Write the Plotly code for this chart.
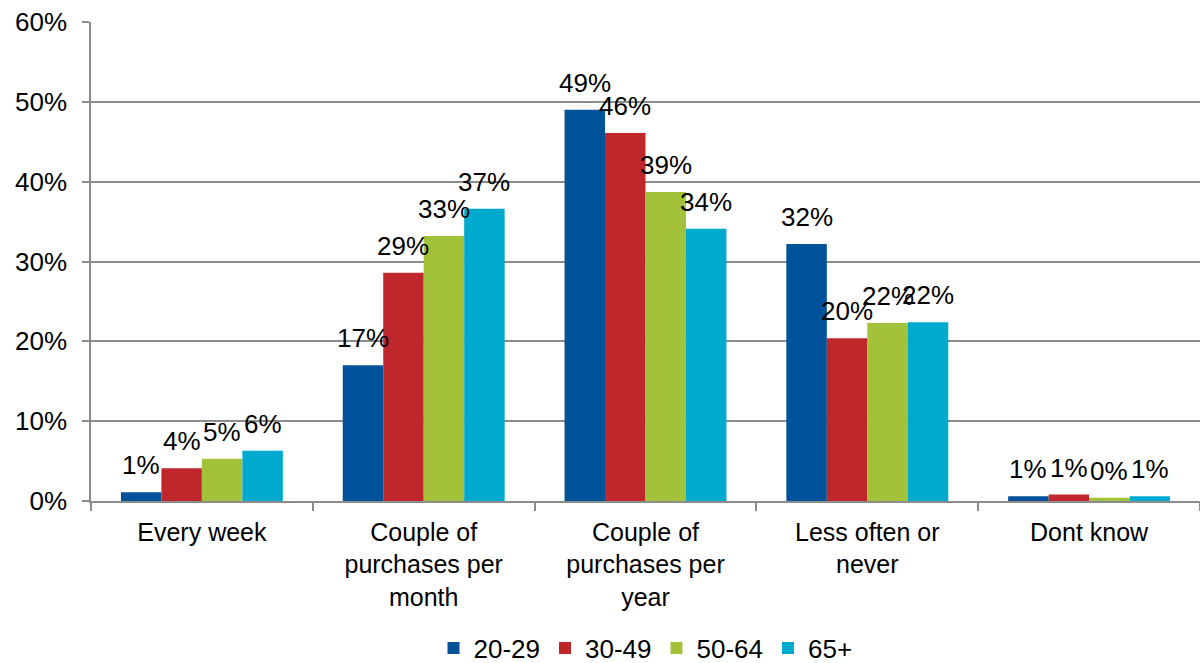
import plotly.graph_objects as go

categories = ["Every week", "Couple of<br>purchases per<br>month", "Couple of<br>purchases per<br>year",
              "Less often or<br>never", "Dont know"]
age_groups = ["20-29", "30-49", "50-64", "65+"]
values_20_29 = [0.011, 0.170, 0.490, 0.322, 0.006]
values_30_49 = [0.041, 0.286, 0.461, 0.204, 0.008]
values_50_64 = [0.053, 0.332, 0.387, 0.223, 0.004]
values_65_plus = [0.063, 0.366, 0.341, 0.224, 0.006]
colors = ["#00529B", "#C0272D", "#A4C13A", "#00AACF"]
y_ticks = [0, 0.1, 0.2, 0.3, 0.4, 0.5, 0.6]

series = [values_20_29, values_30_49, values_50_64, values_65_plus]
font = "Liberation Sans, Arial, sans-serif"
fsize = 26

W, H = 1200, 663
M_L, M_R, M_T, M_B = 91, 0, 22, 162
BARGAP = 0.27

# pixel width of one bar, used to centre value labels over each bar of a group
cat_px = (W - M_L - M_R) / len(categories)
bar_px = cat_px * (1 - BARGAP) / len(series)

fig = go.Figure()
for name, vals, col in zip(age_groups, series, colors):
    fig.add_trace(go.Bar(
        x=categories, y=vals, name=name,
        marker=dict(color=col, line=dict(width=0)),
    ))

for i, vals in enumerate(series):
    offset = (i - (len(series) - 1) / 2) * bar_px
    for cat, v in zip(categories, vals):
        fig.add_annotation(
            x=cat, y=v, xref="x", yref="y",
            text=f"{v:.0%}", showarrow=False,
            xanchor="center", yanchor="bottom",
            xshift=offset, yshift=10,
            font=dict(family=font, size=fsize, color="#000000"),
        )

fig.update_layout(
    width=W, height=H,
    margin=dict(l=M_L, r=M_R, t=M_T, b=M_B, autoexpand=False),
    paper_bgcolor="white", plot_bgcolor="white",
    barmode="group", bargap=BARGAP, bargroupgap=0,
    font=dict(family=font, size=fsize, color="#000000"),
    showlegend=True,
    legend=dict(orientation="h", x=0.5, xanchor="center", y=-0.307, yanchor="middle",
                font=dict(size=fsize), itemwidth=30, traceorder="normal"),
)
fig.update_yaxes(
    range=[0, 0.6], tickvals=y_ticks, tickformat=".0%",
    showgrid=True, gridcolor="#8C8C8C", gridwidth=1.5,
    showline=True, linecolor="#8C8C8C", linewidth=1.5,
    ticks="outside", ticklen=7, tickcolor="#8C8C8C", tickwidth=1.5,
    ticklabelstandoff=10, automargin=False,
    zeroline=False, tickfont=dict(size=fsize),
)
fig.update_xaxes(
    showline=True, linecolor="#8C8C8C", linewidth=1.5,
    ticks="outside", ticklen=8, tickcolor="#8C8C8C", tickwidth=1.5,
    tickson="boundaries", showgrid=False, ticklabelstandoff=8,
    automargin=False, tickfont=dict(size=25),
)

fig.write_html("out.html")
